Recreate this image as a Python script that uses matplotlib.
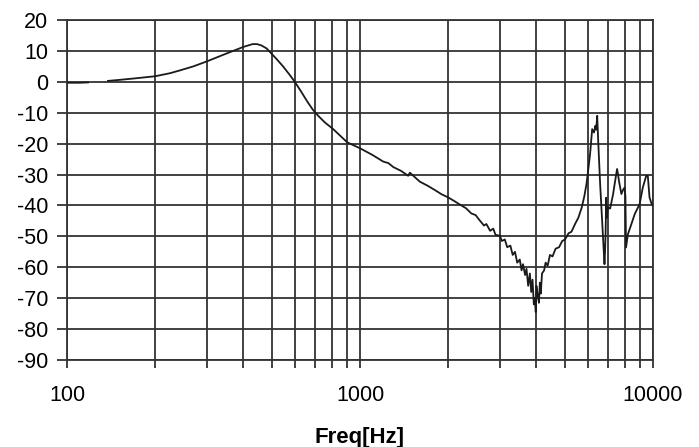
import numpy as np
import matplotlib
matplotlib.use("Agg")
import matplotlib.pyplot as plt
from matplotlib.ticker import FixedLocator, NullFormatter

freq_hz = [100, 110, 118, 128, 138, 150, 170, 200, 225, 243, 270, 300, 349, 400, 430,
           445, 460, 480, 500, 520, 545, 575, 600, 630, 660, 690, 720, 760, 810, 860,
           905, 1000, 1100, 1200,
           1250, 1300, 1380, 1460, 1480, 1600, 1700, 1800, 1900, 2000, 2100, 2200,
           2300, 2400, 2480, 2560, 2650, 2700, 2780, 2850, 2900, 3000, 3050, 3120,
           3180, 3260, 3320, 3380, 3440, 3510, 3560, 3600, 3660, 3700, 3750, 3800,
           3840, 3880, 3920, 3950, 3980, 4000, 4040, 4080, 4110, 4140, 4180, 4250,
           4300, 4370, 4450, 4540, 4650, 4780, 4900, 5010, 5150, 5270, 5420, 5560,
           5710, 5830, 5930, 6020, 6100, 6200, 6290, 6360, 6400, 6450, 6500, 6600,
           6720, 6830, 6860, 6890, 6920, 6960, 7010, 7140, 7310, 7400, 7540, 7600,
           7650, 7800, 7900, 8000, 8050, 8090, 8210, 8440, 8660, 9000, 9230, 9480,
           9600, 9730, 9900, 10000]
gain_db = [-0.3, -0.3, -0.2, np.nan, 0.3, 0.6, 1.1, 1.8, 2.8, 3.7, 5.0, 6.6, 9.1, 11.3, 12.2,
           12.2, 11.8, 10.8, 9.0, 7.3, 5.1, 2.3, -0.1, -3.2, -6.3, -9.0, -11.0, -13.2, -15.3, -17.6,
           -19.6, -21.5, -23.6, -25.8,
           -26.3, -27.6, -28.8, -30.4, -29.4, -32.3, -33.6, -35.0, -36.4, -37.4, -38.6, -39.8,
           -40.9, -42.6, -43.1, -44.8, -46.5, -46.0, -48.2, -47.5, -49.5, -49.8, -51.5, -51.0,
           -53.5, -53.0, -56.0, -55.0, -58.5, -57.5, -61.0, -59.0, -62.5, -60.5, -66.0, -62.0,
           -68.0, -64.0, -72.0, -70.0, -74.5, -66.0, -69.0, -71.5, -65.0, -68.5, -62.0, -61.0,
           -58.5, -59.5, -56.0, -56.5, -54.0, -53.5, -51.5, -51.0, -49.0, -48.5, -46.0, -44.0,
           -40.7, -37.0, -33.0, -28.0, -23.3, -15.3, -16.4, -14.2, -15.5, -11.0, -19.0, -33.0,
           -47.0, -59.0, -55.0, -49.0, -37.5, -44.0, -40.6, -41.0, -36.3, -33.0, -28.2, -30.0,
           -32.0, -36.3, -35.0, -34.2, -37.0, -53.6, -49.3, -46.0, -42.8, -39.6, -34.2, -30.4,
           -30.4, -37.4, -39.6, -40.0]

y_ticks = [20, 10, 0, -10, -20, -30, -40, -50, -60, -70, -80, -90]
x_major = [100, 1000, 10000]
x_labels = ["100", "1000", "10000"]
x_minor = [200, 300, 400, 500, 600, 700, 800, 900,
           2000, 3000, 4000, 5000, 6000, 7000, 8000, 9000]

plt.rcParams['font.family'] = ['Liberation Sans', 'DejaVu Sans']
plt.rcParams['axes.unicode_minus'] = False

fig = plt.figure(figsize=(6.99, 4.47), dpi=100)
ax = fig.add_axes([67/699, 1-360/447, (653-67)/699, (360-20)/447])

ax.set_xscale('log')
ax.set_xlim(100, 10000)
ax.set_ylim(-90, 20)

gc = '#333333'
ax.xaxis.set_major_locator(FixedLocator(x_major))
ax.xaxis.set_minor_locator(FixedLocator(x_minor))
ax.set_xticks(x_major)
ax.set_xticklabels(x_labels)
ax.xaxis.set_minor_formatter(NullFormatter())
ax.set_yticks(y_ticks)

ax.grid(True, which='major', axis='both', color=gc, lw=1.3)
ax.grid(True, which='minor', axis='x', color=gc, lw=1.3)
ax.set_axisbelow(True)

for tk in ax.xaxis.get_minor_ticks():
    if abs(tk.get_loc() - 400) < 1:
        tk.gridline.set_color('#a8a8a8')

ax.plot(freq_hz, gain_db, color='#1a1a1a', lw=1.3, zorder=3)

ax.tick_params(axis='x', which='both', direction='out', length=6, width=1.3, color=gc,
               labelsize=15.5, pad=12)
ax.tick_params(axis='y', direction='out', length=7.5, width=1.3, color=gc,
               labelsize=15.5, pad=6)
for s in ax.spines.values():
    s.set_color(gc)
    s.set_linewidth(1.3)

ax.set_xlabel('Freq[Hz]', fontsize=16, fontweight='bold', labelpad=15)

fig.savefig('out.png', dpi=100)
